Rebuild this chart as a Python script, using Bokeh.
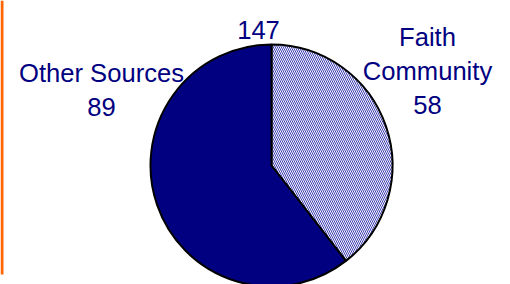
import math
from bokeh.plotting import figure
from bokeh.models import Range1d, ColumnDataSource
from bokeh.core.properties import value
from bokeh.embed import file_html
from bokeh.resources import INLINE

# ---- data ----
categories = ["Faith\nCommunity", "Other Sources"]
counts = [58, 89]
total_label = "147"

# ---- layout (plot pixels, y measured downward from top) ----
W, H = 510, 284
CX, CY, R = 271, 165, 121
FONT = "Liberation Sans"
FS = 25.6
LINE = 34
label_anchor = [(427, 36), (101, 72)]   # centre x, first baseline
total_anchor = (258, 29)

p = figure(width=W, height=H, output_backend="svg", toolbar_location=None,
           x_range=Range1d(0, W), y_range=Range1d(0, H),
           min_border=0, outline_line_color=None)
p.axis.visible = False
p.grid.visible = False
p.background_fill_color = "white"
p.border_fill_color = "white"

tot = sum(counts)
starts, ends = [], []
acc = 0.0
for c in counts:
    a0 = math.pi / 2 - 2 * math.pi * acc / tot
    acc += c
    a1 = math.pi / 2 - 2 * math.pi * acc / tot
    starts.append(a0)
    ends.append(a1)

fills = ["white", "#000080"]
hatches = ["\\", " "]
src = ColumnDataSource(dict(x=[CX] * 2, y=[H - CY] * 2, s=starts, e=ends,
                            fill=fills, hatch=hatches))
p.wedge(x="x", y="y", radius=R, start_angle="s", end_angle="e",
        direction="clock", source=src, fill_color="fill",
        hatch_pattern="hatch", hatch_color="#3c3cb4", hatch_scale=4,
        hatch_weight=1, line_color="black", line_width=2)

# labels
tx, ty, tt = [], [], []
for cat, cnt, (ax, ay) in zip(categories, counts, label_anchor):
    lines = cat.split("\n") + [str(cnt)]
    for i, ln in enumerate(lines):
        tx.append(ax)
        ty.append(H - (ay + i * LINE))
        tt.append(ln)
tx.append(total_anchor[0]); ty.append(H - total_anchor[1]); tt.append(total_label)

p.text(x=tx, y=ty, text=tt, text_font=value(FONT), text_font_size=f"{FS}px",
       text_color="#000080", text_align="center", text_baseline="alphabetic")

# orange left rule
p.segment(x0=[1.5], y0=[H], x1=[1.5], y1=[H - 274], line_color="#FF6600",
          line_width=3)

open("out.html", "w").write(file_html(p, INLINE))
